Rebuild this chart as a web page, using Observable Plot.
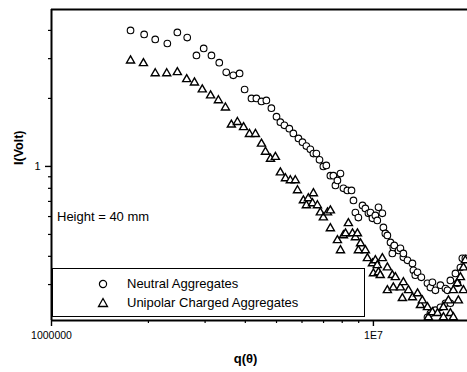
<!DOCTYPE html>
<html><head><meta charset="utf-8">
<script src="https://cdn.jsdelivr.net/npm/d3@7"></script>
<script src="https://cdn.jsdelivr.net/npm/@observablehq/plot@0.6"></script>
<style>
body{margin:0;background:#fff;}
#wrap{position:relative;width:467px;height:372px;font-family:"Liberation Sans",Arial,sans-serif;color:#000;}
#legend{position:absolute;left:52px;top:268px;width:311px;height:47px;border:1.5px solid #000;background:#fff;font-size:13px;}
#legend .row{position:absolute;left:0;height:16px;line-height:16px;white-space:nowrap;}
#note{position:absolute;left:57px;top:209px;font-size:13px;white-space:nowrap;}
</style></head>
<body><div id="wrap"></div>
<script>
// q(θ) values and I(Volt) values
const qNeutral = [1.76e6,1.94e6,2.10e6,2.29e6,2.46e6,2.64e6,2.82e6,2.97e6,3.14e6,3.32e6,3.49e6,3.67e6,3.84e6,3.98e6,4.18e6,4.33e6,4.49e6,4.65e6,4.82e6,5.00e6,5.14e6,5.29e6,5.48e6,5.64e6,5.85e6,6.02e6,6.19e6,6.37e6,6.51e6,6.65e6,6.80e6,6.99e6,7.14e6,7.35e6,7.51e6,7.62e6,7.73e6,7.90e6,8.07e6,8.30e6,8.55e6,8.67e6,8.79e6,8.98e6,9.25e6,9.44e6,9.65e6,9.79e6,9.93e6,10.14e6,10.28e6,10.37e6,10.66e6,10.74e6,10.89e6,11.05e6,11.30e6,11.45e6,11.53e6,11.61e6,11.97e6,12.13e6,12.39e6,12.39e6,12.76e6,13.22e6,13.31e6,13.49e6,13.71e6,14.09e6,14.72e6,15.03e6,15.25e6,15.58e6,16.15e6,16.74e6,16.98e6,17.34e6,17.98e6,18.23e6,18.63e6,18.89e6,19.30e6,14.72e6,15.03e6,15.58e6,16.15e6,16.74e6,17.34e6];
const iNeutral = [4.00,3.84,3.65,3.50,3.92,3.72,3.10,3.33,3.10,2.88,2.61,2.53,2.58,2.19,2.00,2.00,1.94,1.96,1.81,1.66,1.57,1.52,1.47,1.40,1.33,1.28,1.23,1.19,1.14,1.14,1.07,1.00,1.01,0.91,0.91,0.824,0.867,0.93,0.80,0.783,0.783,0.707,0.625,0.594,0.672,0.652,0.62,0.625,0.589,0.607,0.577,0.659,0.62,0.537,0.505,0.495,0.461,0.412,0.438,0.447,0.425,0.434,0.396,0.412,0.384,0.372,0.347,0.33,0.34,0.323,0.304,0.291,0.307,0.283,0.298,0.288,0.283,0.313,0.336,0.304,0.357,0.392,0.392,0.215,0.224,0.231,0.238,0.248,0.248];
const qCharged = [1.76e6,1.93e6,2.10e6,2.28e6,2.46e6,2.63e6,2.78e6,2.94e6,3.12e6,3.30e6,3.47e6,3.62e6,3.78e6,3.95e6,4.12e6,4.30e6,4.49e6,4.62e6,4.79e6,4.96e6,5.14e6,5.33e6,5.52e6,5.72e6,5.81e6,6.06e6,6.19e6,6.28e6,6.51e6,6.47e6,6.70e6,6.84e6,6.99e6,7.20e6,7.35e6,7.35e6,7.73e6,7.90e6,8.07e6,8.19e6,8.36e6,8.61e6,8.79e6,8.92e6,8.98e6,9.12e6,9.44e6,9.58e6,9.93e6,10.00e6,10.14e6,10.28e6,10.37e6,10.50e6,10.66e6,11.05e6,11.05e6,11.45e6,11.53e6,11.70e6,12.13e6,12.30e6,12.39e6,12.85e6,13.22e6,13.71e6,14.00e6,14.19e6,14.72e6,14.82e6,15.25e6,15.82e6,16.50e6,16.50e6,17.10e6,17.34e6,17.71e6,17.71e6,18.23e6,18.36e6,18.63e6,19.04e6,19.04e6,19.30e6];
const iCharged = [2.94,2.86,2.58,2.58,2.61,2.43,2.35,2.19,2.06,1.96,1.82,1.53,1.57,1.49,1.39,1.39,1.26,1.16,1.08,1.10,0.94,0.885,0.867,0.867,0.783,0.707,0.672,0.722,0.76,0.686,0.672,0.625,0.594,0.625,0.638,0.532,0.471,0.425,0.495,0.505,0.56,0.505,0.485,0.505,0.425,0.456,0.425,0.392,0.372,0.336,0.384,0.365,0.34,0.33,0.392,0.357,0.283,0.33,0.291,0.323,0.291,0.261,0.307,0.283,0.263,0.274,0.243,0.255,0.238,0.215,0.226,0.224,0.238,0.215,0.255,0.224,0.283,0.215,0.304,0.255,0.323,0.357,0.283,0.384];
const seriesNames = ["Neutral Aggregates","Unipolar Charged Aggregates"];
const xDomain = [1e6, 1.96e7];
const yDomain = [0.208, 4.95];
const xMajor = [1e6, 1e7];
const xMajorLabels = ["1000000","1E7"];
const xMinor = [2e6,3e6,4e6,5e6,6e6,7e6,8e6,9e6];
const yMajor = [1];
const yMinor = [0.3,0.4,0.5,0.6,0.7,0.8,0.9,2,3,4];
const noteText = "Height = 40 mm";

const neutral = qNeutral.map((q,i)=>({q, I:iNeutral[i]}));
const charged = qCharged.map((q,i)=>({q, I:iCharged[i]}));

const font = '"Liberation Sans", Arial, sans-serif';
const chart = Plot.plot({
  width: 467, height: 372,
  marginLeft: 51, marginRight: 0, marginTop: 9, marginBottom: 52,
  style: {fontFamily: font, background: "#fff", color: "#000"},
  x: {type: "log", domain: xDomain, label: null},
  y: {type: "log", domain: yDomain, label: null},
  marks: [
    Plot.dot(neutral, {x:"q", y:"I", r:3.3, stroke:"#000", fill:"#fff", strokeWidth:1.1, clip:true}),
    Plot.dot(charged, {x:"q", y:"I", symbol:"triangle", r:3.0, stroke:"#000", fill:"#fff", strokeWidth:1.4, clip:true}),
    Plot.axisX({ticks: xMinor, tickSize: 3, tickFormat: () => "", strokeWidth: 1.2, label: null}),
    Plot.axisX({ticks: xMajor, tickSize: 6, tickPadding: 5, tickFormat: (d) => xMajorLabels[xMajor.indexOf(d)], fontSize: 10.5, label: null, strokeWidth: 1.4}),
    Plot.axisY({ticks: yMinor, tickSize: 3, tickFormat: () => "", strokeWidth: 1.2, label: null}),
    Plot.axisY({ticks: yMajor, tickSize: 6, tickPadding: 5, tickFormat: d => String(d), fontSize: 11, label: null, strokeWidth: 1.4}),
    Plot.ruleX([xDomain[0]], {strokeWidth: 2}),
    Plot.ruleY([yDomain[0]], {strokeWidth: 2}),
    Plot.ruleY([yDomain[1]], {strokeWidth: 2.2}),
    Plot.text(["q(θ)"], {frameAnchor: "bottom", dy: 42, dx: -14, fontSize: 13, fontWeight: "bold"}),
    Plot.text(["I(Volt)"], {frameAnchor: "left", dx: -33, rotate: -90, fontSize: 12.5, fontWeight: "bold"})
  ]
});
const wrap = document.getElementById("wrap");
wrap.appendChild(chart);

const note = document.createElement("div");
note.id = "note"; note.textContent = noteText;
wrap.appendChild(note);

const legend = document.createElement("div");
legend.id = "legend";
const syms = [
  '<svg width="10" height="10" style="position:absolute;left:45px;top:3px"><circle cx="5" cy="5" r="3.6" fill="none" stroke="#000" stroke-width="1.2"/></svg>',
  '<svg width="12" height="12" style="position:absolute;left:44px;top:2px"><path d="M6,1.5 L10.5,9.5 L1.5,9.5 Z" fill="none" stroke="#000" stroke-width="1.3"/></svg>'
];
seriesNames.forEach((name, i) => {
  const row = document.createElement("div");
  row.className = "row";
  row.style.top = (i === 0 ? 7 : 26) + "px";
  row.style.width = "300px";
  row.innerHTML = syms[i] + '<span style="position:absolute;left:74px;top:0">' + name + '</span>';
  legend.appendChild(row);
});
wrap.appendChild(legend);
</script>
</body></html>
